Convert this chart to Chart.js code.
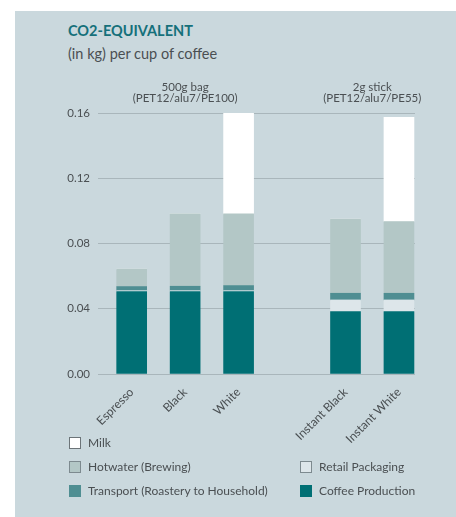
<!DOCTYPE html>
<html>
<head>
<meta charset="utf-8">
<script src="https://cdn.jsdelivr.net/npm/chart.js@4/dist/chart.umd.min.js"></script>
<style>
  html, body { margin: 0; padding: 0; background: #ffffff; }
  body { width: 456px; height: 517px; position: relative; overflow: hidden; font-family: Lato, "Open Sans", sans-serif; }
  #panel { position: absolute; left: 15px; top: 11px; width: 441px; height: 506px; background: #cad8dd; }
  #title { position: absolute; left: 68px; top: 22px; font-size: 14.5px; font-weight: bold; color: #15707a; letter-spacing: 0px; }
  #subtitle { position: absolute; left: 68px; top: 45px; font-size: 14.5px; color: #4a4f52; }
  #wrap { position: absolute; left: 0; top: 0; width: 456px; height: 445px; }
  .lg { position: absolute; font-size: 12px; color: #4a4f52; white-space: nowrap; }
  .lg .box { position: absolute; left: 0; top: 0; width: 12px; height: 12px; box-sizing: border-box; }
  .lg .txt { position: absolute; left: 19px; top: -2px; }
</style>
</head>
<body>
<div id="panel"></div>
<div id="title">CO2-EQUIVALENT</div>
<div id="subtitle">(in kg) per cup of coffee</div>
<div id="wrap"><canvas id="c" width="456" height="445"></canvas></div>
<div id="legend"></div>
<script>
// ---- data ----
const categories = ['Espresso', 'Black', 'White', '', 'Instant Black', 'Instant White'];
const coffeeProduction = [0.0505, 0.0505, 0.0505, null, 0.0382, 0.0382];
const retailPackaging  = [0.0006, 0.0006, 0.0006, null, 0.0072, 0.0072];
const transport        = [0.0025, 0.0027, 0.0031, null, 0.0041, 0.0041];
const hotwater         = [0.0107, 0.0444, 0.0440, null, 0.0455, 0.0440];
const milk             = [0,      0,      0.0618, null, 0,      0.0638];
const yTicks = [0, 0.04, 0.08, 0.12, 0.16];
const groups = [
  { line1: '500g bag', line2: '(PET12/alu7/PE100)', at: 1 },
  { line1: '2g stick', line2: '(PET12/alu7/PE55)', at: 4.5 }
];

function pts(arr) {
  const out = [];
  arr.forEach((v, i) => { if (v !== null) out.push({ x: i, y: v }); });
  return out;
}

const datasets = [
  { label: 'Coffee Production', data: pts(coffeeProduction), backgroundColor: '#006f74', legendBorder: '#006f74' },
  { label: 'Retail Packaging', data: pts(retailPackaging), backgroundColor: '#dde6ea', legendBorder: '#7d8a8f' },
  { label: 'Transport (Roastery to Household)', data: pts(transport), backgroundColor: '#4f8e92', legendBorder: '#4f8e92' },
  { label: 'Hotwater (Brewing)', data: pts(hotwater), backgroundColor: '#b3c7c6', legendBorder: '#7d8a8f' },
  { label: 'Milk', data: pts(milk), backgroundColor: '#ffffff', legendBorder: '#6c7478' }
];

const groupLabels = {
  id: 'groupLabels',
  afterDraw(chart) {
    const ctx = chart.ctx;
    const xs = chart.scales.x;
    ctx.save();
    ctx.fillStyle = '#4a4f52';
    ctx.font = '11.5px Lato, "Open Sans", sans-serif';
    ctx.textAlign = 'center';
    ctx.textBaseline = 'alphabetic';
    groups.forEach(g => {
      const x = xs.getPixelForValue(g.at);
      ctx.fillText(g.line1, x, 91);
      ctx.fillText(g.line2, x, 102);
    });
    ctx.restore();
  }
};

const chart = new Chart(document.getElementById('c'), {
  type: 'bar',
  data: { datasets },
  options: {
    responsive: false,
    animation: false,
    events: [],
    layout: { padding: { top: 113, right: 41, left: 0, bottom: 0 } },
    datasets: { bar: { barThickness: 30, borderWidth: 0 } },
    plugins: { legend: { display: false }, tooltip: { enabled: false } },
    scales: {
      x: {
        type: 'linear',
        stacked: true,
        offset: false,
        min: -0.63,
        max: 5.3,
        grid: { display: false },
        border: { display: false },
        afterFit(s) { s.height = 71; },
        afterBuildTicks(s) { s.ticks = categories.map((c, i) => ({ value: i })); },
        ticks: {
          autoSkip: false,
          minRotation: 45,
          maxRotation: 45,
          padding: 3,
          color: '#4a4f52',
          font: { family: 'Lato, "Open Sans", sans-serif', size: 12 },
          callback: (v) => categories[v] ?? ''
        }
      },
      y: {
        stacked: true,
        min: 0,
        max: 0.16,
        afterFit(s) { s.width = 98; },
        afterBuildTicks(s) { s.ticks = yTicks.map(v => ({ value: v })); },
        grid: { color: '#a9b6bb', lineWidth: 1, drawTicks: false },
        border: { display: false },
        ticks: {
          padding: 8,
          color: '#4a4f52',
          font: { family: 'Lato, "Open Sans", sans-serif', size: 11.5 },
          callback: (v) => Number(v).toFixed(2)
        }
      }
    }
  },
  plugins: [groupLabels]
});

// HTML legend built from the datasets
const legendPlace = {
  'Milk': [69, 437],
  'Hotwater (Brewing)': [69, 461],
  'Transport (Roastery to Household)': [69, 485],
  'Retail Packaging': [300, 461],
  'Coffee Production': [300, 485]
};
const lg = document.getElementById('legend');
chart.data.datasets.forEach(ds => {
  const p = legendPlace[ds.label];
  const el = document.createElement('div');
  el.className = 'lg';
  el.style.left = p[0] + 'px';
  el.style.top = p[1] + 'px';
  const b = document.createElement('div');
  b.className = 'box';
  b.style.background = ds.backgroundColor;
  b.style.border = '1px solid ' + ds.legendBorder;
  const t = document.createElement('div');
  t.className = 'txt';
  t.textContent = ds.label;
  el.appendChild(b); el.appendChild(t);
  lg.appendChild(el);
});
</script>
</body>
</html>
